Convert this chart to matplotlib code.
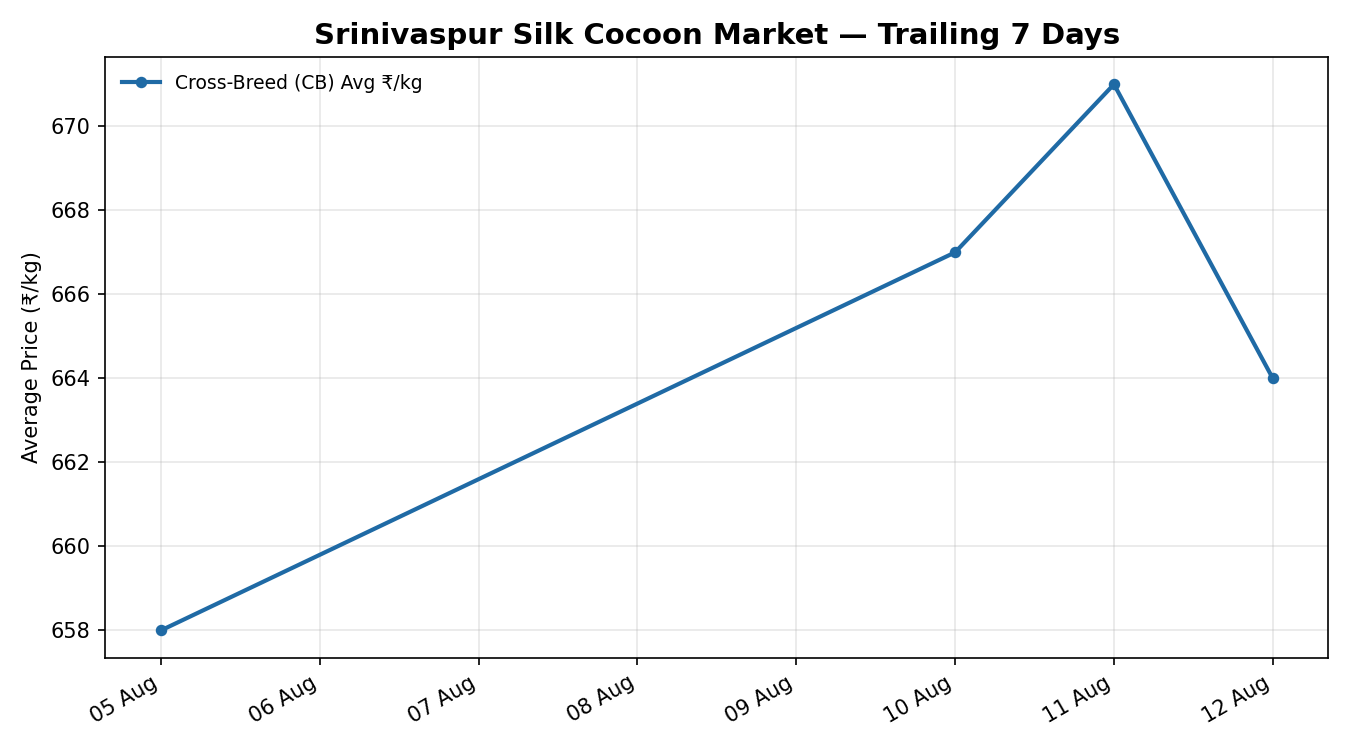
import datetime
import matplotlib
matplotlib.use("Agg")
import matplotlib.pyplot as plt
import matplotlib.dates as mdates

# Trailing 7 days of cross-breed cocoon prices (missing days have no auction)
dates = ["2024-08-05", "2024-08-10", "2024-08-11", "2024-08-12"]
prices = [658, 667, 671, 664]
series_label = "Cross-Breed (CB) Avg ₹/kg"

days = [datetime.datetime.strptime(d, "%Y-%m-%d") for d in dates]

fig, ax = plt.subplots(figsize=(9, 5), dpi=150)

ax.plot(days, prices, color="#1f6aa5", linewidth=2.0, marker="o", markersize=4.5,
        label=series_label)

ax.set_title("Srinivaspur Silk Cocoon Market — Trailing 7 Days", fontsize=14, fontweight="bold")
ax.set_ylabel("Average Price (₹/kg)", fontsize=10)

ax.xaxis.set_major_locator(mdates.DayLocator())
ax.xaxis.set_major_formatter(mdates.DateFormatter("%d %b"))
ax.tick_params(labelsize=10)
ax.grid(True, alpha=0.3)
ax.legend(loc="upper left", frameon=False, fontsize=9)

fig.autofmt_xdate()
fig.subplots_adjust(left=0.078, right=0.984, top=0.924, bottom=0.123)

fig.savefig("out.png", dpi=150)
